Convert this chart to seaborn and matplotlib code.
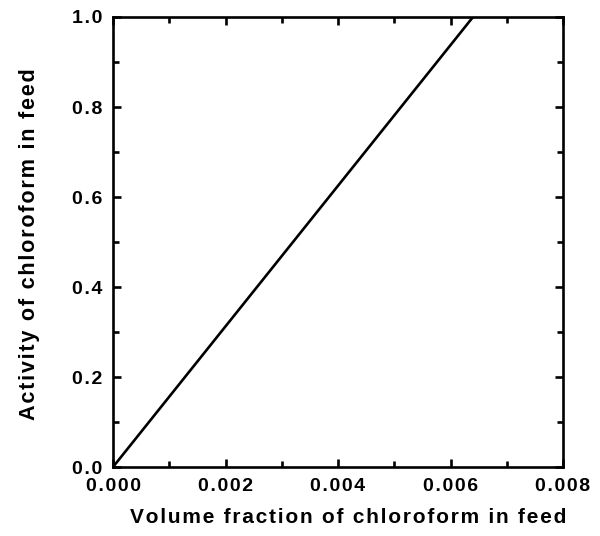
import numpy as np
import pandas as pd
import matplotlib
matplotlib.use("Agg")
import matplotlib.pyplot as plt
import seaborn as sns
from matplotlib.ticker import MultipleLocator, FuncFormatter

# Data: straight line through origin
volume_fraction = [0.0, 0.0064]
activity = [0.0, 1.0]

x_label = 'Volume fraction of chloroform in feed'
y_label = 'Activity of chloroform in feed'

HAIR = '\u200a'


def spaced(s):
    # mimic the loose letter spacing of the original figure
    return HAIR.join(s)


sns.set_theme(style="ticks")
plt.rcParams['font.family'] = ['Liberation Sans', 'DejaVu Sans']
plt.rcParams['font.weight'] = 'bold'

df = pd.DataFrame({'x': volume_fraction, 'y': activity})

fig = plt.figure(figsize=(6.0, 5.36), dpi=100)
ax = fig.add_axes([113 / 600, 1 - 467 / 536, 450 / 600, 450 / 536])

sns.lineplot(data=df, x='x', y='y', ax=ax, color='black', linewidth=1.9)

ax.set_xlim(0, 0.008)
ax.set_ylim(0, 1.0)
ax.xaxis.set_major_locator(MultipleLocator(0.002))
ax.xaxis.set_minor_locator(MultipleLocator(0.001))
ax.yaxis.set_major_locator(MultipleLocator(0.2))
ax.yaxis.set_minor_locator(MultipleLocator(0.1))
ax.xaxis.set_major_formatter(FuncFormatter(lambda v, p: spaced('%.3f' % v)))
ax.yaxis.set_major_formatter(FuncFormatter(lambda v, p: spaced('%.1f' % v)))

for s in ax.spines.values():
    s.set_linewidth(1.9)
    s.set_color('black')

ax.tick_params(which='both', direction='in', top=True, right=True,
               width=1.9, color='black', labelsize=14, labelcolor='black')
ax.tick_params(which='major', length=6, pad=8)
ax.tick_params(which='minor', length=4)
ax.tick_params(axis='x', which='major', pad=8)

ax.set_xlabel(spaced(x_label), fontsize=15, fontweight='bold', color='black')
ax.xaxis.set_label_coords(0.523, -0.092)
ax.set_ylabel(spaced(y_label), fontsize=15.6, fontweight='bold', color='black')
ax.yaxis.set_label_coords(-0.163, 0.496)

fig.savefig('out.png', dpi=100)
